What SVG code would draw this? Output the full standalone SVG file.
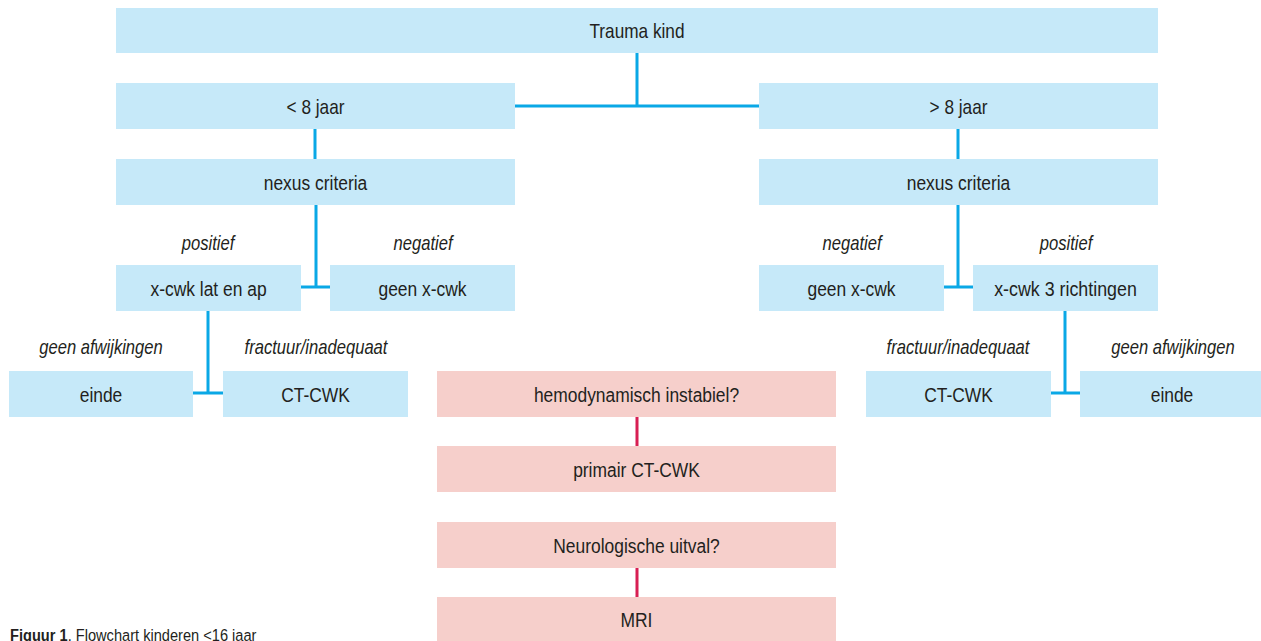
<svg xmlns="http://www.w3.org/2000/svg" width="1261" height="641" viewBox="0 0 1261 641">
<style>
.b{fill:#c6e9f9}
.p{fill:#f6cfcb}
.t{font-family:"Liberation Sans",Arial,sans-serif;font-size:21px;fill:#231f20;text-anchor:middle}
.l{font-family:"Liberation Sans",Arial,sans-serif;font-size:20px;font-style:italic;fill:#231f20;text-anchor:middle}
.cb{fill:none;stroke:#0aa8e6;stroke-width:3}
.cp{fill:none;stroke:#d81f53;stroke-width:3}
.cap{font-family:"Liberation Sans",Arial,sans-serif;font-size:17px;fill:#231f20}
</style>
<rect width="1261" height="641" fill="#ffffff"/>
<g id="connectors">
<path class="cb" d="M637 53V106M515 106H759M315 129V159M958 129V159M316 205V287M301 287H330M958 205V287M944 287H973M208 311V393M193 393H223M1065 311V393M1051 393H1080"/>
<path class="cp" d="M637 417V446M637 568V597"/>
</g>
<g id="trauma"><rect class="b" x="116" y="8" width="1042" height="45"/><text class="t" transform="translate(637 38) scale(0.82 1)">Trauma kind</text></g>
<g id="lt8"><rect class="b" x="116" y="83" width="399" height="46"/><text class="t" transform="translate(315.5 113.5) scale(0.82 1)">&lt; 8 jaar</text></g>
<g id="gt8"><rect class="b" x="759" y="83" width="399" height="46"/><text class="t" transform="translate(958.5 113.5) scale(0.82 1)">&gt; 8 jaar</text></g>
<g id="nexus-l"><rect class="b" x="116" y="159" width="399" height="46"/><text class="t" transform="translate(315.5 189.5) scale(0.83 1)">nexus criteria</text></g>
<g id="nexus-r"><rect class="b" x="759" y="159" width="399" height="46"/><text class="t" transform="translate(958.5 189.5) scale(0.83 1)">nexus criteria</text></g>
<g id="xcwk-lat"><rect class="b" x="116" y="265" width="185" height="46"/><text class="t" transform="translate(208.5 295.5) scale(0.83 1)">x-cwk lat en ap</text></g>
<g id="geen-l"><rect class="b" x="330" y="265" width="185" height="46"/><text class="t" transform="translate(422.5 295.5) scale(0.83 1)">geen x-cwk</text></g>
<g id="geen-r"><rect class="b" x="759" y="265" width="185" height="46"/><text class="t" transform="translate(851.5 295.5) scale(0.83 1)">geen x-cwk</text></g>
<g id="xcwk-3"><rect class="b" x="973" y="265" width="185" height="46"/><text class="t" transform="translate(1065.5 295.5) scale(0.85 1)">x-cwk 3 richtingen</text></g>
<g id="einde-l"><rect class="b" x="9" y="371" width="184" height="46"/><text class="t" transform="translate(101 401.5) scale(0.83 1)">einde</text></g>
<g id="ct-l"><rect class="b" x="223" y="371" width="185" height="46"/><text class="t" transform="translate(315.5 401.5) scale(0.83 1)">CT-CWK</text></g>
<g id="ct-r"><rect class="b" x="866" y="371" width="185" height="46"/><text class="t" transform="translate(958.5 401.5) scale(0.83 1)">CT-CWK</text></g>
<g id="einde-r"><rect class="b" x="1080" y="371" width="181" height="46"/><text class="t" transform="translate(1172 401.5) scale(0.83 1)">einde</text></g>
<g id="hemo"><rect class="p" x="437" y="371" width="399" height="46"/><text class="t" transform="translate(636.5 401.5) scale(0.83 1)">hemodynamisch instabiel?</text></g>
<g id="primair"><rect class="p" x="437" y="446" width="399" height="46"/><text class="t" transform="translate(636.5 476.5) scale(0.83 1)">primair CT-CWK</text></g>
<g id="neuro"><rect class="p" x="437" y="522" width="399" height="46"/><text class="t" transform="translate(636.5 552.5) scale(0.83 1)">Neurologische uitval?</text></g>
<g id="mri"><rect class="p" x="437" y="597" width="399" height="44"/><text class="t" transform="translate(636.5 627) scale(0.83 1)">MRI</text></g>
<g id="labels">
<text class="l" transform="translate(208 250) scale(0.83 1)">positief</text>
<text class="l" transform="translate(423 250) scale(0.83 1)">negatief</text>
<text class="l" transform="translate(852 250) scale(0.83 1)">negatief</text>
<text class="l" transform="translate(1066 250) scale(0.83 1)">positief</text>
<text class="l" transform="translate(101 354) scale(0.83 1)">geen afwijkingen</text>
<text class="l" transform="translate(316 354) scale(0.83 1)">fractuur/inadequaat</text>
<text class="l" transform="translate(958 354) scale(0.83 1)">fractuur/inadequaat</text>
<text class="l" transform="translate(1173 354) scale(0.83 1)">geen afwijkingen</text>
</g>
<g id="caption"><text class="cap" transform="translate(10 641) scale(0.86 1)"><tspan font-weight="bold">Figuur 1</tspan>. Flowchart kinderen &lt;16 jaar</text></g>
</svg>
